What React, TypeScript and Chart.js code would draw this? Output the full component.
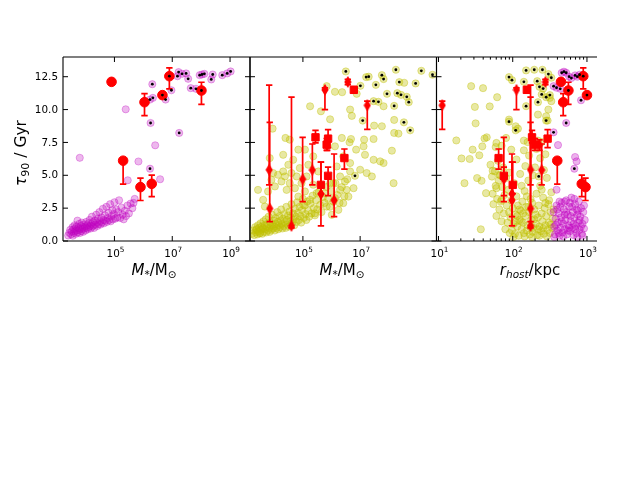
import React, { useEffect, useRef } from "react";
import { Chart, registerables } from "chart.js";

Chart.register(...registerables);

const FONT = '"DejaVu Sans", sans-serif';

// ---------------- axes ----------------
const tauTicks = [0, 2.5, 5, 7.5, 10, 12.5];
const tauTickLabels = ["0.0", "2.5", "5.0", "7.5", "10.0", "12.5"];
const massTickExps1 = [5, 7, 9];
const massTickExps2 = [5, 7];
const rTickExps = [1, 2, 3];
const rMinorTicks = [20, 30, 40, 50, 60, 70, 80, 90, 200, 300, 400, 500, 600, 700, 800, 900];

// ---------------- panel 1: magenta population, [log10 M*/Msun, tau90/Gyr] ----------------
const magentaMass = [
  [3.40, 0.42], [3.44, 0.62], [3.47, 0.85], [3.50, 0.50], [3.52, 0.72], [3.55, 1.05], [3.56, 0.40], [3.58, 0.88],
  [3.60, 0.62], [3.62, 1.20], [3.63, 0.75], [3.65, 0.95], [3.67, 0.55], [3.68, 1.10], [3.70, 0.80], [3.72, 1.55],
  [3.73, 0.65], [3.75, 1.00], [3.77, 0.85], [3.78, 1.30], [3.80, 0.60], [3.82, 0.95], [3.84, 1.15], [3.85, 0.75],
  [3.87, 1.40], [3.89, 0.90], [3.90, 1.05], [3.92, 0.70], [3.94, 1.25], [3.96, 0.95], [3.98, 1.10], [4.00, 0.80],
  [4.02, 1.45], [4.04, 1.00], [4.06, 1.20], [4.08, 0.90], [4.10, 1.35], [4.12, 1.05], [4.14, 1.60], [4.16, 1.15],
  [4.18, 0.95], [4.20, 1.30], [4.22, 1.85], [4.24, 1.10], [4.26, 1.45], [4.28, 1.20], [4.30, 1.00], [4.32, 1.55],
  [4.35, 1.25], [4.37, 2.00], [4.39, 1.40], [4.41, 1.15], [4.43, 1.70], [4.46, 1.30], [4.48, 2.20], [4.50, 1.50],
  [4.52, 1.25], [4.55, 1.80], [4.57, 1.40], [4.60, 2.45], [4.62, 1.60], [4.64, 1.35], [4.67, 1.95], [4.69, 1.55],
  [4.72, 2.60], [4.74, 1.45], [4.77, 1.75], [4.80, 2.15], [4.82, 1.60], [4.85, 2.80], [4.87, 1.50], [4.90, 1.90],
  [4.93, 2.35], [4.95, 1.65], [4.98, 2.05], [5.00, 2.95], [5.03, 1.70], [5.06, 2.40], [5.10, 1.80], [5.13, 2.20],
  [5.16, 3.10], [5.20, 1.75], [5.24, 2.55], [5.28, 2.00], [5.32, 1.65], [5.36, 2.30], [5.40, 1.90], [5.45, 2.70],
  [5.50, 2.10], [5.56, 2.85], [5.62, 2.50], [5.66, 2.90], [5.70, 3.20],
  [3.80, 6.33], [5.39, 10.02], [5.83, 6.05], [5.46, 4.62], [6.58, 4.70], [6.41, 7.28],
];
const magentaMassDotted = [
  [6.31, 11.93], [6.23, 10.76], [6.33, 10.89], [6.25, 8.98], [6.23, 5.50], [6.77, 10.76], [6.97, 11.47],
  [7.18, 12.54], [7.22, 12.85], [7.34, 12.72], [7.48, 12.75], [7.55, 12.34], [7.24, 8.22], [7.64, 11.63],
  [7.82, 11.58], [7.95, 12.62], [8.03, 12.67], [8.11, 12.72], [8.35, 12.29], [8.40, 12.67], [8.73, 12.62],
  [8.90, 12.75], [9.02, 12.90],
];

// ---------------- panel 2: olive population, [log10 M*/Msun, tau90/Gyr] ----------------
const oliveMass = [
  [3.22, 0.55], [3.26, 0.80], [3.30, 0.45], [3.33, 1.05], [3.36, 0.65], [3.38, 0.90], [3.41, 0.50], [3.43, 1.20],
  [3.45, 0.75], [3.47, 1.00], [3.50, 0.60], [3.52, 1.35], [3.54, 0.85], [3.56, 1.10], [3.58, 0.55], [3.60, 0.95],
  [3.62, 1.50], [3.64, 0.70], [3.66, 1.20], [3.68, 0.90], [3.70, 1.65], [3.72, 0.65], [3.74, 1.05], [3.76, 1.30],
  [3.78, 0.80], [3.80, 1.85], [3.82, 1.00], [3.84, 0.70], [3.86, 1.40], [3.88, 1.15], [3.90, 0.85], [3.92, 2.00],
  [3.94, 1.25], [3.96, 0.95], [3.98, 1.55], [4.00, 1.10], [4.02, 0.80], [4.04, 1.75], [4.06, 1.30], [4.08, 1.00],
  [4.10, 2.20], [4.12, 1.45], [4.14, 0.90], [4.16, 1.20], [4.18, 1.90], [4.20, 1.05], [4.22, 1.55], [4.24, 2.40],
  [4.26, 1.30], [4.28, 0.95], [4.30, 1.70], [4.33, 1.15], [4.35, 2.05], [4.37, 1.45], [4.40, 1.00], [4.42, 2.60],
  [4.44, 1.60], [4.46, 1.25], [4.48, 1.95], [4.51, 1.10], [4.53, 2.25], [4.55, 1.50], [4.58, 1.80], [4.60, 2.80],
  [4.62, 1.35], [4.65, 2.10], [4.67, 1.65], [4.70, 1.20], [4.72, 2.45], [4.75, 1.85], [4.78, 1.45], [4.80, 2.95],
  [4.83, 2.15], [4.86, 1.60], [4.88, 2.60], [4.91, 1.90], [4.94, 1.40], [4.97, 2.35], [5.00, 3.20], [5.03, 1.75],
  [5.06, 2.70], [5.09, 2.05], [5.12, 1.60], [5.15, 3.00], [5.18, 2.30], [5.22, 1.85], [5.26, 2.85], [5.30, 2.10],
  [5.34, 3.45], [5.38, 2.50], [5.42, 1.95], [5.46, 3.10], [5.50, 2.40], [5.55, 3.70], [5.60, 2.75], [5.65, 2.20],
  [5.70, 3.35], [5.76, 2.90], [5.82, 4.10], [5.88, 3.20], [5.94, 2.60], [6.00, 3.80], [6.06, 3.00], [6.14, 4.40],
  [6.20, 3.50], [6.28, 2.90], [6.36, 4.10], [6.45, 3.40], [6.55, 4.70],
  [3.37, 0.84], [3.49, 0.59], [3.61, 0.97], [3.43, 3.89], [3.61, 3.13], [3.67, 2.62], [3.78, 3.77], [3.90, 4.66],
  [3.96, 5.17], [4.02, 4.15], [4.13, 5.04], [4.25, 4.53], [4.31, 5.29], [4.37, 4.91], [4.43, 3.89], [4.49, 5.80],
  [4.54, 4.40], [4.60, 5.17], [4.66, 6.18], [4.72, 4.02], [4.78, 4.91], [4.84, 3.38], [4.89, 5.55], [4.95, 4.40],
  [5.01, 2.75], [5.07, 3.77], [5.13, 4.91], [5.19, 5.80], [5.25, 3.13], [5.36, 4.28], [5.42, 2.11], [5.48, 3.64],
  [5.54, 5.29], [5.77, 3.64], [5.83, 2.62], [5.95, 4.40], [6.01, 1.99], [6.12, 3.26], [6.24, 2.37], [6.30, 3.89],
  [6.41, 2.88], [6.47, 4.53], [6.59, 3.38], [6.65, 5.29], [6.77, 4.02],
  [5.25, 10.25], [5.83, 11.78], [6.12, 11.35], [6.37, 11.32], [6.88, 11.20], [5.63, 9.87], [5.95, 9.26],
  [6.65, 10.00], [6.71, 9.52], [7.82, 10.25], [8.19, 9.21], [8.54, 12.04], [7.49, 8.78], [7.76, 8.73],
  [8.19, 8.22], [8.34, 8.17], [8.11, 6.87], [8.17, 4.40], [6.68, 7.76], [7.14, 7.71], [7.47, 7.76], [7.47, 6.18],
  [6.86, 6.95], [6.63, 7.51], [7.17, 6.56], [7.41, 4.91], [7.00, 5.42], [7.12, 7.20], [3.94, 8.55], [4.39, 7.84],
  [4.54, 7.71], [4.31, 6.56], [3.84, 6.31], [4.84, 6.95], [5.07, 6.95], [5.36, 6.44], [6.12, 7.20], [6.36, 7.84],
  [6.41, 6.44], [6.18, 5.67], [6.65, 5.93], [7.23, 5.17], [7.70, 6.06], [7.82, 5.93], [6.06, 4.40], [6.53, 3.89],
  [6.30, 4.91],
];
const oliveMassDotted = [
  [6.50, 12.90], [7.21, 12.47], [7.30, 12.50], [7.76, 12.62], [7.82, 12.32], [8.25, 13.03], [7.55, 11.88],
  [7.01, 11.81], [7.94, 11.20], [8.30, 11.25], [8.43, 11.12], [8.37, 12.09], [8.63, 10.97], [8.70, 10.56],
  [8.94, 11.99], [9.14, 12.95], [9.53, 12.65], [8.19, 10.28], [7.47, 10.64], [7.64, 10.59], [7.09, 9.16],
  [8.53, 9.03], [8.75, 8.42], [6.82, 4.96],
];

// ---------------- panel 3: [log10 r_host/kpc, tau90/Gyr] ----------------
const oliveRhost = [
  [1.44, 11.78], [1.60, 11.63], [1.79, 10.94], [1.49, 10.20], [1.69, 10.24], [1.50, 8.95], [1.24, 7.65],
  [1.62, 7.80], [1.65, 7.89], [1.59, 7.20], [1.78, 7.46], [1.77, 7.15], [1.91, 7.84], [1.98, 6.95], [1.85, 7.25],
  [1.31, 6.28], [1.42, 6.24], [1.55, 6.52], [1.46, 6.95], [1.52, 4.79], [1.58, 4.58], [1.35, 4.40], [1.64, 3.64],
  [1.57, 0.89], [1.73, 5.35], [1.82, 5.04], [1.78, 4.02], [1.85, 3.13], [2.04, 8.73], [2.07, 8.55], [1.95, 9.24],
  [2.45, 9.49], [2.47, 9.16], [2.34, 9.62], [2.15, 7.64], [2.20, 7.53], [2.34, 7.64], [2.39, 7.53], [2.48, 10.00],
  [2.50, 10.89], [2.52, 10.64],
  [1.70, 5.80], [1.72, 4.90], [1.73, 3.60], [1.74, 2.80], [1.76, 5.30], [1.77, 4.20], [1.78, 1.90], [1.79, 3.20],
  [1.80, 6.10], [1.81, 4.60], [1.82, 2.40], [1.83, 5.00], [1.84, 3.00], [1.85, 1.50], [1.86, 4.10], [1.87, 5.60],
  [1.88, 2.10], [1.89, 3.50], [1.90, 0.90], [1.91, 4.80], [1.92, 2.70], [1.93, 1.40], [1.94, 3.90], [1.95, 5.20],
  [1.95, 2.20], [1.96, 0.60],
  [1.97, 1.80], [1.98, 3.10], [1.99, 0.80], [2.00, 2.50], [2.01, 1.30], [2.02, 4.40], [2.03, 0.55], [2.04, 2.00],
  [2.05, 3.40], [2.06, 1.10], [2.07, 2.70], [2.08, 0.40], [2.09, 1.60], [2.10, 5.10], [2.11, 2.30], [2.12, 0.90],
  [2.13, 3.00], [2.14, 1.40], [2.15, 0.60], [2.16, 3.80], [2.17, 1.90], [2.18, 2.60], [2.19, 0.80], [2.20, 1.20],
  [2.21, 4.60], [2.22, 2.20], [2.23, 0.50], [2.24, 3.20], [2.25, 1.60], [2.26, 2.90], [2.27, 0.70], [2.28, 1.00],
  [2.29, 2.40], [2.30, 5.60], [2.31, 1.30], [2.32, 3.60], [2.33, 0.45], [2.34, 1.80], [2.35, 2.70], [2.36, 1.10],
  [2.37, 4.20], [2.38, 0.75], [2.39, 2.10], [2.40, 1.50], [2.41, 3.30], [2.42, 0.55], [2.43, 2.50], [2.44, 1.20],
  [2.45, 1.90], [2.46, 4.80], [2.47, 0.85], [2.48, 2.80], [2.49, 1.40], [2.50, 0.60], [2.51, 2.20], [2.52, 3.70],
  [2.53, 1.00], [2.54, 1.70], [2.55, 2.40],
  [2.01, 0.30], [2.06, 1.90], [2.11, 1.50], [2.16, 0.35], [2.21, 2.60], [2.26, 0.30], [2.31, 2.00], [2.36, 0.40],
  [2.41, 0.95], [2.46, 0.35], [2.51, 1.25], [2.04, 1.45], [2.14, 2.10], [2.24, 1.05], [2.34, 0.90], [2.44, 2.90],
  [2.29, 1.65], [2.19, 3.40], [2.09, 2.40], [2.39, 3.90], [2.49, 3.10], [2.27, 5.00], [2.12, 4.20], [2.37, 6.30],
  [2.42, 5.40], [2.32, 7.00], [2.22, 6.50], [2.15, 6.90], [2.44, 6.60], [2.05, 6.20], [2.17, 5.70],
];
const oliveRhostDotted = [
  [1.95, 12.47], [1.99, 12.24], [2.18, 12.98], [2.29, 13.03], [2.40, 13.03], [2.48, 12.70], [2.52, 12.42],
  [2.33, 12.16], [2.36, 11.73], [2.41, 11.60], [2.39, 11.15], [2.45, 10.94], [2.50, 11.10], [2.34, 10.56],
  [2.18, 10.26], [2.15, 12.11], [1.95, 9.08], [2.04, 8.42], [2.45, 9.16], [2.35, 4.91],
];
const magentaRhost = [
  [2.55, 2.20], [2.56, 1.10], [2.57, 0.50], [2.58, 1.70], [2.59, 2.70], [2.60, 0.80], [2.61, 1.40], [2.62, 2.10],
  [2.63, 0.40], [2.64, 1.00], [2.65, 1.80], [2.66, 2.90], [2.67, 0.65], [2.68, 1.30], [2.69, 2.40], [2.70, 0.90],
  [2.71, 1.60], [2.72, 3.10], [2.73, 0.50], [2.74, 2.00], [2.75, 1.20], [2.76, 2.60], [2.77, 0.75], [2.78, 1.50],
  [2.79, 3.30], [2.80, 1.00], [2.81, 2.20], [2.82, 0.45], [2.83, 1.75], [2.84, 2.80], [2.85, 1.15], [2.86, 0.60],
  [2.87, 2.00], [2.88, 1.40], [2.89, 3.00], [2.90, 0.85], [2.91, 1.85], [2.92, 2.50], [2.93, 0.55], [2.94, 1.30],
  [2.95, 2.20], [2.96, 0.95], [2.97, 1.60],
  [2.56, 0.30], [2.60, 2.40], [2.64, 2.60], [2.68, 0.35], [2.72, 2.20], [2.76, 1.00], [2.80, 2.60], [2.84, 0.90],
  [2.88, 2.30], [2.92, 1.10], [2.96, 2.70], [2.58, 1.20], [2.62, 0.60], [2.66, 1.50], [2.70, 2.00], [2.74, 0.80],
  [2.78, 1.90], [2.82, 1.30], [2.86, 2.40], [2.90, 1.60], [2.94, 0.40], [2.70, 3.00], [2.77, 2.90], [2.83, 3.20],
  [2.63, 3.00], [2.87, 0.30],
  [2.61, 7.30], [2.84, 6.39], [2.86, 6.06], [2.59, 3.90],
];
const magentaRhostDotted = [
  [2.66, 12.80], [2.69, 12.88], [2.72, 12.80], [2.76, 12.50], [2.79, 12.40], [2.84, 12.60], [2.87, 12.50],
  [2.90, 12.65], [2.55, 11.78], [2.59, 11.66], [2.64, 11.58], [2.92, 10.71], [2.72, 8.98], [2.55, 8.27],
  [2.83, 5.50],
];

// ---------------- red objects with error bars (tau90 and its range) ----------------
// circles (panel 1 mass, panel 3 r_host)
const circLogM = [4.90, 6.04, 6.66, 6.90, 8.01, 5.30, 5.90, 6.29];
const circLogR = [2.65, 2.68, 3.00, 2.95, 2.75, 2.60, 2.98, 2.93];
const circTau = [12.11, 10.56, 11.10, 12.54, 11.45, 6.11, 4.10, 4.35];
const circLo = [12.11, 9.54, 11.10, 11.58, 10.40, 4.33, 3.08, 3.38];
const circHi = [12.11, 11.22, 11.10, 13.18, 12.08, 6.28, 4.79, 5.01];
const circDotted = [false, false, true, true, true, false, false, false];
// thin diamonds (panel 2 mass, panel 3 r_host)
const diaLogM = [3.82, 3.84, 4.60, 4.99, 5.33, 5.63, 5.77, 6.09, 6.57, 7.25, 5.85];
const diaLogR = [2.24, 2.24, 2.24, 1.88, 2.39, 1.99, 2.05, 1.99, 2.44, 1.05, 2.36];
const diaTau = [5.42, 2.47, 1.15, 4.70, 5.40, 3.58, 11.50, 3.10, 12.10, 10.32, 7.30];
const diaLo = [4.27, 1.48, 1.00, 3.00, 4.27, 1.15, 10.00, 1.86, 11.90, 8.50, 6.90];
const diaHi = [11.86, 9.03, 10.94, 7.89, 7.38, 6.00, 11.65, 6.62, 12.30, 10.64, 7.70];
// squares (panel 2 mass, panel 3 r_host)
const sqLogM = [5.44, 5.88, 5.83, 5.63, 5.88, 6.45, 6.78];
const sqLogR = [2.26, 2.47, 2.30, 2.00, 1.88, 1.81, 2.19];
const sqTau = [7.89, 7.79, 7.33, 4.27, 4.96, 6.31, 11.50];
const sqLo = [7.46, 7.10, 6.90, 3.60, 3.46, 5.47, 11.25];
const sqHi = [8.42, 8.47, 7.80, 6.00, 5.62, 7.00, 11.75];

// ---------------- helpers ----------------
const MAG = "191,0,191";
const OLI = "191,191,0";
const RED = "rgb(255,0,0)";

const pts = (pairs: number[][]) => pairs.map(([l, t]) => ({ x: Math.pow(10, l), y: t }));
const ptsXY = (ls: number[], ts: number[]) => ls.map((l, i) => ({ x: Math.pow(10, l), y: ts[i] }));

function popDs(pairs: number[][], rgb: string, a: number) {
  return {
    data: pts(pairs),
    pointRadius: 3.6,
    pointBorderWidth: 0.8,
    backgroundColor: `rgba(${rgb},${a})`,
    borderColor: `rgba(${rgb},${a + 0.12})`,
    pointStyle: "circle",
    order: 3,
    clip: 0,
  };
}
function dotDs(pairs: number[][]) {
  return {
    data: pts(pairs),
    pointRadius: 1.4,
    pointBorderWidth: 0,
    backgroundColor: "#000",
    borderColor: "#000",
    order: 0,
    clip: 0,
  };
}
function redDs(ls: number[], ts: number[], lo: number[], hi: number[], style: any, radius: number) {
  return {
    data: ptsXY(ls, ts),
    errLo: lo,
    errHi: hi,
    pointStyle: style,
    pointRadius: radius,
    pointBorderWidth: 1,
    backgroundColor: RED,
    borderColor: RED,
    order: 1,
    clip: 0,
  };
}

type Seg = { t: string; font: string; dy?: number };
function drawRich(ctx: CanvasRenderingContext2D, segs: Seg[], x: number, y: number) {
  let total = 0;
  const ws = segs.map((s) => {
    ctx.font = s.font;
    const w = ctx.measureText(s.t).width;
    total += w;
    return w;
  });
  let cx = x - total / 2;
  ctx.textAlign = "left";
  ctx.textBaseline = "alphabetic";
  segs.forEach((s, i) => {
    ctx.font = s.font;
    ctx.fillText(s.t, cx, y + (s.dy || 0));
    cx += ws[i];
  });
}

const errorBarPlugin = {
  id: "errorBars",
  afterDatasetDraw(chart: any, args: any) {
    const ds = chart.data.datasets[args.index];
    if (!ds.errLo) return;
    const ctx = chart.ctx;
    const xs = chart.scales.x;
    const ys = chart.scales.y;
    ctx.save();
    ctx.strokeStyle = RED;
    ctx.lineWidth = 1.7;
    ds.data.forEach((p: any, i: number) => {
      const lo = ds.errLo[i];
      const hi = ds.errHi[i];
      if (hi - lo < 0.02) return;
      const px = xs.getPixelForValue(p.x);
      const y1 = ys.getPixelForValue(lo);
      const y2 = ys.getPixelForValue(hi);
      ctx.beginPath();
      ctx.moveTo(px, y1);
      ctx.lineTo(px, y2);
      ctx.moveTo(px - 3.2, y1);
      ctx.lineTo(px + 3.2, y1);
      ctx.moveTo(px - 3.2, y2);
      ctx.lineTo(px + 3.2, y2);
      ctx.stroke();
    });
    ctx.restore();
  },
};

type Panel = {
  left: number;
  right: number;
  xMin: number;
  xMax: number;
  majorExps: number[];
  minors: number[];
  yLabels: boolean;
  rightSpine: boolean;
  titleX: number;
  title: Seg[];
};

const TOP = 57;
const BOTTOM = 241;

function framePlugin(p: Panel) {
  return {
    id: "frame",
    afterDraw(chart: any) {
      const ctx: CanvasRenderingContext2D = chart.ctx;
      const a = chart.chartArea;
      const xs = chart.scales.x;
      const ys = chart.scales.y;
      ctx.save();
      ctx.strokeStyle = "#000";
      ctx.lineWidth = 1.1;
      ctx.beginPath();
      ctx.moveTo(a.left, a.top);
      ctx.lineTo(a.right, a.top);
      ctx.moveTo(a.left, a.bottom);
      ctx.lineTo(a.right, a.bottom);
      ctx.moveTo(a.left, a.top);
      ctx.lineTo(a.left, a.bottom);
      if (p.rightSpine) {
        ctx.moveTo(a.right, a.top);
        ctx.lineTo(a.right, a.bottom);
      }
      ctx.stroke();

      ctx.lineWidth = 1;
      ctx.beginPath();
      tauTicks.forEach((v) => {
        const py = ys.getPixelForValue(v);
        ctx.moveTo(a.left, py);
        ctx.lineTo(a.left + 5, py);
        if (p.rightSpine) {
          ctx.moveTo(a.right, py);
          ctx.lineTo(a.right - 5, py);
        }
      });
      p.majorExps.forEach((e) => {
        const px = xs.getPixelForValue(Math.pow(10, e));
        ctx.moveTo(px, a.top);
        ctx.lineTo(px, a.top + 5);
        ctx.moveTo(px, a.bottom);
        ctx.lineTo(px, a.bottom - 5);
      });
      p.minors.forEach((v) => {
        const px = xs.getPixelForValue(v);
        ctx.moveTo(px, a.top);
        ctx.lineTo(px, a.top + 2.6);
        ctx.moveTo(px, a.bottom);
        ctx.lineTo(px, a.bottom - 2.6);
      });
      ctx.stroke();

      ctx.fillStyle = "#000";
      if (p.yLabels) {
        ctx.font = `10.4px ${FONT}`;
        ctx.textAlign = "right";
        ctx.textBaseline = "middle";
        tauTicks.forEach((v, i) => {
          ctx.fillText(tauTickLabels[i], a.left - 5, ys.getPixelForValue(v) + 0.5);
        });
        ctx.save();
        ctx.translate(25.5, 153);
        ctx.rotate(-Math.PI / 2);
        drawRich(
          ctx,
          [
            { t: "τ", font: `italic 15.5px ${FONT}` },
            { t: "90", font: `11px ${FONT}`, dy: 3 },
            { t: " / Gyr", font: `15.5px ${FONT}` },
          ],
          0,
          0
        );
        ctx.restore();
      }
      p.majorExps.forEach((e) => {
        const px = xs.getPixelForValue(Math.pow(10, e));
        drawRich(
          ctx,
          [
            { t: "10", font: `10.4px ${FONT}` },
            { t: String(e), font: `7.3px ${FONT}`, dy: -4.6 },
          ],
          px + 1,
          257
        );
      });
      drawRich(ctx, p.title, p.titleX, 275);
      ctx.restore();
    },
  };
}

const massTitle: Seg[] = [
  { t: "M", font: `italic 15px ${FONT}` },
  { t: "*", font: `italic 10.5px ${FONT}`, dy: 3 },
  { t: "/M", font: `15px ${FONT}` },
  { t: "⊙", font: `10.5px ${FONT}`, dy: 3 },
];
const rTitle: Seg[] = [
  { t: "r", font: `italic 15px ${FONT}` },
  { t: "host", font: `italic 10.5px ${FONT}`, dy: 3 },
  { t: "/kpc", font: `15px ${FONT}` },
];

const panels: Panel[] = [
  {
    left: 63, right: 250, xMin: Math.pow(10, 3.22), xMax: Math.pow(10, 9.69),
    majorExps: massTickExps1, minors: [], yLabels: true, rightSpine: true, titleX: 154, title: massTitle,
  },
  {
    left: 250, right: 436.5, xMin: Math.pow(10, 3.15), xMax: Math.pow(10, 9.67),
    majorExps: massTickExps2, minors: [], yLabels: false, rightSpine: true, titleX: 342, title: massTitle,
  },
  {
    left: 436.5, right: 597, xMin: 9.4, xMax: 1365,
    majorExps: rTickExps, minors: rMinorTicks, yLabels: false, rightSpine: false, titleX: 530, title: rTitle,
  },
];

function makeDiamond() {
  const c = document.createElement("canvas");
  c.width = 8;
  c.height = 12;
  const g = c.getContext("2d")!;
  g.fillStyle = RED;
  g.beginPath();
  g.moveTo(4, 0);
  g.lineTo(7.6, 6);
  g.lineTo(4, 12);
  g.lineTo(0.4, 6);
  g.closePath();
  g.fill();
  return c;
}

function buildChart(canvas: HTMLCanvasElement, p: Panel, datasets: any[]) {
  return new Chart(canvas, {
    type: "scatter",
    data: { datasets },
    options: {
      animation: false,
      responsive: false,
      events: [],
      layout: { padding: { left: p.left, right: 637 - p.right, top: TOP, bottom: 478 - BOTTOM } },
      scales: {
        x: { type: "logarithmic", min: p.xMin, max: p.xMax, display: false },
        y: { type: "linear", min: 0, max: 14, display: false },
      },
      plugins: { legend: { display: false }, tooltip: { enabled: false } },
    } as any,
    plugins: [errorBarPlugin as any, framePlugin(p) as any],
  });
}

export default function App() {
  const r1 = useRef<HTMLCanvasElement>(null);
  const r2 = useRef<HTMLCanvasElement>(null);
  const r3 = useRef<HTMLCanvasElement>(null);

  useEffect(() => {
    const diamond = makeDiamond();
    const circDots1 = circLogM.map((l, i) => [l, circTau[i]]).filter((_, i) => circDotted[i]);
    const circDots3 = circLogR.map((l, i) => [l, circTau[i]]).filter((_, i) => circDotted[i]);

    const c1 = buildChart(r1.current!, panels[0], [
      dotDs([...magentaMassDotted, ...circDots1]),
      redDs(circLogM, circTau, circLo, circHi, "circle", 4.8),
      popDs([...magentaMass, ...magentaMassDotted], MAG, 0.28),
    ]);
    const c2 = buildChart(r2.current!, panels[1], [
      dotDs(oliveMassDotted),
      redDs(sqLogM, sqTau, sqLo, sqHi, "rect", 5.2),
      redDs(diaLogM, diaTau, diaLo, diaHi, diamond, 5),
      popDs([...oliveMass, ...oliveMassDotted], OLI, 0.36),
    ]);
    const c3 = buildChart(r3.current!, panels[2], [
      dotDs([...oliveRhostDotted, ...magentaRhostDotted, ...circDots3]),
      redDs(circLogR, circTau, circLo, circHi, "circle", 4.8),
      redDs(sqLogR, sqTau, sqLo, sqHi, "rect", 5.2),
      redDs(diaLogR, diaTau, diaLo, diaHi, diamond, 5),
      popDs([...magentaRhost, ...magentaRhostDotted], MAG, 0.3),
      popDs([...oliveRhost, ...oliveRhostDotted], OLI, 0.36),
    ]);
    return () => {
      c1.destroy();
      c2.destroy();
      c3.destroy();
    };
  }, []);

  const cs: React.CSSProperties = { position: "absolute", left: 0, top: 0, width: 637, height: 478 };
  return (
    <div style={{ position: "fixed", left: 0, top: 0, width: 637, height: 478, background: "#fff" }}>
      <canvas ref={r1} width={637} height={478} style={cs} />
      <canvas ref={r2} width={637} height={478} style={cs} />
      <canvas ref={r3} width={637} height={478} style={cs} />
    </div>
  );
}
